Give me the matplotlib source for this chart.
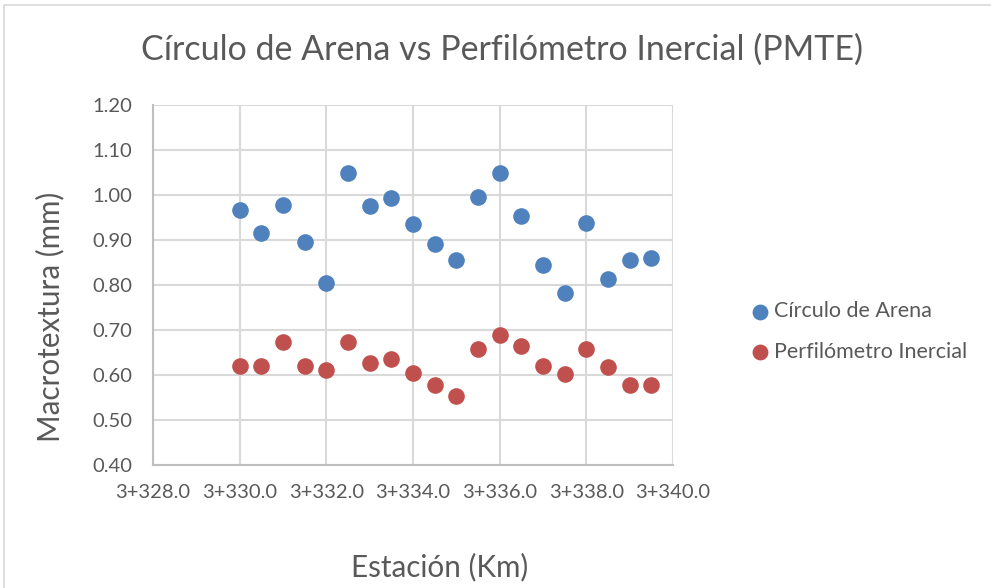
import numpy as np
from matplotlib import pyplot as plt
from matplotlib.patches import Rectangle
from matplotlib.ticker import FuncFormatter

plt.rcParams['font.family'] = ['Lato', 'DejaVu Sans']

estacion = np.arange(330.0, 340.0, 0.5)
circulo_arena = [0.967, 0.916, 0.977, 0.896, 0.805, 1.048, 0.975, 0.994, 0.936, 0.891,
                 0.856, 0.996, 1.048, 0.954, 0.844, 0.782, 0.938, 0.814, 0.856, 0.859]
perfilometro = [0.620, 0.620, 0.674, 0.619, 0.611, 0.674, 0.627, 0.635, 0.604, 0.578,
                0.553, 0.658, 0.690, 0.665, 0.619, 0.603, 0.658, 0.617, 0.578, 0.578]

grey = '#595959'

fig = plt.figure(figsize=(9.91, 5.88), dpi=100)
ax = fig.add_axes([153 / 991, 1 - 465 / 588, 520 / 991, 360 / 588])

# chart border
fig.patches.append(Rectangle((4 / 991, -0.01), 1.1, 1.0 - 5 / 588 + 0.01,
                             transform=fig.transFigure, fill=False,
                             edgecolor='#D9D9D9', linewidth=1.2))

ax.scatter(estacion, circulo_arena, s=120, color='#4F81BD', label='Círculo de Arena', zorder=3)
ax.scatter(estacion, perfilometro, s=120, color='#C0504D', label='Perfilómetro Inercial', zorder=3)

ax.set_xlim(328, 340)
ax.set_ylim(0.4, 1.2)
ax.set_xticks(np.arange(328, 340.1, 2))
ax.set_yticks(np.arange(0.4, 1.201, 0.1))
ax.xaxis.set_major_formatter(FuncFormatter(lambda v, p: f'3+{v:.1f}'))
ax.yaxis.set_major_formatter(FuncFormatter(lambda v, p: f'{v:.2f}'))
ax.tick_params(length=0, labelsize=14.5, labelcolor=grey)
ax.tick_params(axis='x', pad=14)
ax.tick_params(axis='y', pad=15)
ax.grid(color='#D9D9D9', linewidth=1.5)
ax.set_axisbelow(True)
for side in ['top', 'right']:
    ax.spines[side].set_visible(False)
for side in ['left', 'bottom']:
    ax.spines[side].set_color('#BFBFBF')
    ax.spines[side].set_linewidth(1.5)

fig.text(502 / 991, 1 - 50 / 588, 'Círculo de Arena vs Perfilómetro Inercial (PMTE)',
         ha='center', va='center', fontsize=24.5, color=grey)
fig.text(50 / 991, 1 - 317 / 588, 'Macrotextura (mm)', ha='center', va='center',
         rotation=90, fontsize=21.3, color=grey)
fig.text(440 / 991, 1 - 567 / 588, 'Estación (Km)', ha='center', va='center',
         fontsize=21.3, color=grey)

leg = ax.legend(loc='center left', bbox_to_anchor=(741 / 991, 1 - 331.5 / 588),
                bbox_transform=fig.transFigure, frameon=False, fontsize=15.5,
                borderpad=0, handlelength=0.8, handletextpad=0.24,
                labelspacing=0.95, markerscale=0.95)
for t in leg.get_texts():
    t.set_color(grey)

fig.savefig('out.png', dpi=100)
